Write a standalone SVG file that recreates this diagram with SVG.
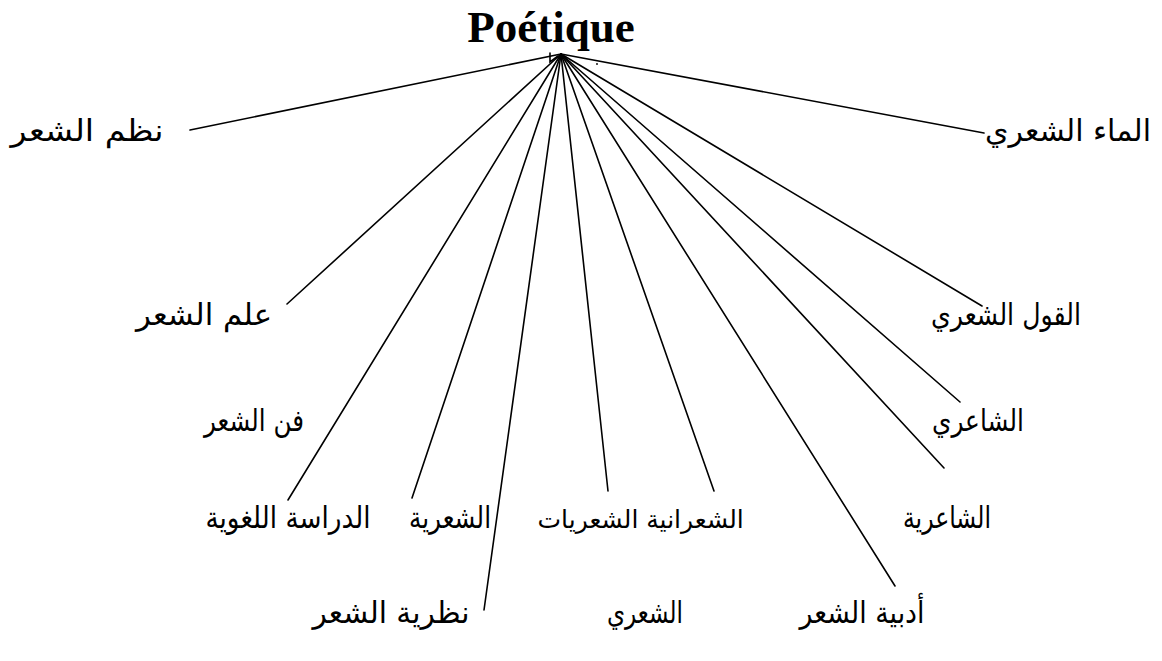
<svg xmlns="http://www.w3.org/2000/svg" width="1162" height="661" viewBox="0 0 1162 661">
  <style>
    .bg { fill: #ffffff; }
    .title { font-family: "Liberation Serif", "DejaVu Serif", serif; font-weight: bold; font-size: 45px; fill: #000; }
    .lbl { font-family: "DejaVu Sans", "Noto Sans", sans-serif; font-size: 30px; fill: #000; text-anchor: middle; direction: rtl; }
    .lbl.tight { font-size: 25px; }
    .link { stroke: #000; stroke-width: 1.6; fill: none; stroke-linecap: round; }
  </style>
  <rect class="bg" x="0" y="0" width="1162" height="661"/>

  <!-- root term -->
  <g id="node-poetique">
    <text class="title" x="551" y="42" text-anchor="middle">Poétique</text>
  </g>

  <!-- rays from the root -->
  <g id="connectors">
    <line class="link" x1="561" y1="54" x2="190" y2="130"/>
    <line class="link" x1="561" y1="54" x2="984" y2="133"/>
    <line class="link" x1="561" y1="54" x2="287" y2="304"/>
    <line class="link" x1="561" y1="54" x2="288" y2="500"/>
    <line class="link" x1="561" y1="54" x2="412" y2="498"/>
    <line class="link" x1="561" y1="54" x2="484" y2="610"/>
    <line class="link" x1="561" y1="54" x2="608" y2="491"/>
    <line class="link" x1="561" y1="54" x2="714" y2="491"/>
    <line class="link" x1="561" y1="54" x2="895" y2="586"/>
    <line class="link" x1="561" y1="54" x2="944" y2="468"/>
    <line class="link" x1="561" y1="54" x2="960" y2="402"/>
    <line class="link" x1="561" y1="54" x2="982" y2="306"/>
    <!-- small tick at the hub -->
    <polyline class="link" stroke-width="1" points="550,53 550,62 558,56"/>
    <circle cx="597" cy="64" r="0.9" fill="#000"/>
  </g>

  <g id="node-nazm"><text class="lbl" x="87" y="141" textLength="153" lengthAdjust="spacingAndGlyphs">نظم الشعر</text></g>
  <g id="node-maa"><text class="lbl" x="1068" y="141" textLength="166" lengthAdjust="spacingAndGlyphs">الماء الشعري</text></g>
  <g id="node-ilm"><text class="lbl" x="204" y="325" textLength="136" lengthAdjust="spacingAndGlyphs">علم الشعر</text></g>
  <g id="node-qawl"><text class="lbl" x="1006" y="325" textLength="150" lengthAdjust="spacingAndGlyphs">القول الشعري</text></g>
  <g id="node-fann"><text class="lbl" x="254" y="431" textLength="100" lengthAdjust="spacingAndGlyphs">فن الشعر</text></g>
  <g id="node-shairi"><text class="lbl" x="978" y="431" textLength="92" lengthAdjust="spacingAndGlyphs">الشاعري</text></g>
  <g id="node-dirasa"><text class="lbl" x="288" y="528" textLength="165" lengthAdjust="spacingAndGlyphs">الدراسة اللغوية</text></g>
  <g id="node-shiriyya"><text class="lbl" x="450" y="528" textLength="82" lengthAdjust="spacingAndGlyphs">الشعرية</text></g>
  <g id="node-shiriyyat"><text class="lbl tight" x="588" y="528">الشعريات</text></g>
  <g id="node-shiraniyya"><text class="lbl tight" x="695" y="528">الشعرانية</text></g>
  <g id="node-shairiyya"><text class="lbl" x="947" y="528" textLength="88" lengthAdjust="spacingAndGlyphs">الشاعرية</text></g>
  <g id="node-nazariyya"><text class="lbl" x="391" y="623" textLength="157" lengthAdjust="spacingAndGlyphs">نظرية الشعر</text></g>
  <g id="node-shiri"><text class="lbl" x="645" y="623" textLength="76" lengthAdjust="spacingAndGlyphs">الشعري</text></g>
  <g id="node-adabiyya"><text class="lbl" x="862" y="623" textLength="125" lengthAdjust="spacingAndGlyphs">أدبية الشعر</text></g>
</svg>
